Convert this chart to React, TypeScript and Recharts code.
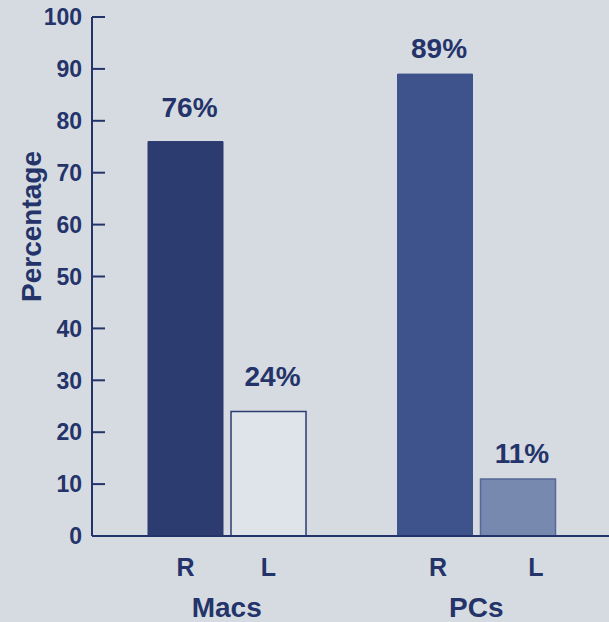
import React from 'react';
import { BarChart, Bar, XAxis, YAxis, Cell, LabelList } from 'recharts';

const groups = ['Macs', 'PCs'];
const rightValues = [76, 89];
const leftValues = [24, 11];
const barLetters = ['R', 'L'];
const yTicks = [0, 10, 20, 30, 40, 50, 60, 70, 80, 90, 100];

const data = groups.map((g, i) => ({ group: g, R: rightValues[i], L: leftValues[i] }));

const NAVY = '#24346a';
const BG = '#d6dbe1';
const rFills = ['#2c3b70', '#3e528c'];
const lFills = ['#dfe4ea', '#7889b0'];
const lStrokes = ['#2c3b70', '#566896'];
const FONT = '"Liberation Sans", Arial, Helvetica, sans-serif';
const valueGap = [25, 16];
const letterNudge = [[0, 0], [3, 18]];

const YTick = (props: any) => {
  const { x, y, payload } = props;
  return (
    <g>
      <text x={x} y={y} dy="0.36em" textAnchor="end" fill={NAVY} fontFamily={FONT} fontWeight="bold" fontSize={23}>
        {payload.value}
      </text>
      <line x1={x + 10} x2={x + 23} y1={y} y2={y} stroke={NAVY} strokeWidth={2} />
    </g>
  );
};

const XTick = (props: any) => {
  const { x, y, payload } = props;
  return (
    <text x={x} y={y} dy={81} textAnchor="middle" fill={NAVY} fontFamily={FONT} fontWeight="bold" fontSize={28}>
      {payload.value}
    </text>
  );
};

const box = (p: any) => {
  const vb = p.viewBox && p.viewBox.width !== undefined ? p.viewBox : p;
  return { x: Number(vb.x), y: Number(vb.y), width: Number(vb.width), height: Number(vb.height) };
};

const makeValueLabel = () => (p: any) => {
  const { x, y, width } = box(p);
  const i = p.index ?? 0;
  return (
    <text x={x + width / 2 + 4} y={y - valueGap[i]} textAnchor="middle" fill={NAVY} fontFamily={FONT} fontWeight="bold" fontSize={28}>
      {p.value}%
    </text>
  );
};

const makeLetterLabel = (k: number) => (p: any) => {
  const { x, y, width, height } = box(p);
  const i = p.index ?? 0;
  return (
    <text x={x + width / 2 + letterNudge[i][k]} y={y + height + 40} textAnchor="middle" fill={NAVY} fontFamily={FONT} fontWeight="bold" fontSize={25}>
      {barLetters[k]}
    </text>
  );
};

const PercentLabel = (p: any) => {
  const vb = p.viewBox || { x: 0, y: 17, width: 92, height: 519 };
  const cx = vb.x + 31;
  const cy = vb.y + vb.height / 2 - 50;
  return (
    <text x={cx} y={cy} transform={`rotate(-90 ${cx} ${cy})`} textAnchor="middle" dominantBaseline="central" fill={NAVY} fontFamily={FONT} fontWeight="bold" fontSize={28}>
      Percentage
    </text>
  );
};

export default function App() {
  return (
    <div style={{ position: 'absolute', left: 0, top: 0, width: 609, height: 622, background: BG, overflow: 'hidden' }}>
      <BarChart width={609} height={622} data={data} margin={{ top: 17, right: 0, bottom: 0, left: 0 }} barSize={75} barGap={8}>
        <XAxis
          dataKey="group"
          height={86}
          padding={{ left: 10, right: 8 }}
          axisLine={{ stroke: NAVY, strokeWidth: 2 }}
          tickLine={false}
          tickSize={0}
          tickMargin={0}
          tick={<XTick />}
          interval={0}
        />
        <YAxis
          width={92}
          domain={[0, 100]}
          ticks={yTicks}
          interval={0}
          axisLine={{ stroke: NAVY, strokeWidth: 2 }}
          tickLine={false}
          tickSize={0}
          tickMargin={10}
          tick={<YTick />}
          label={<PercentLabel />}
        />
        <Bar dataKey="R" isAnimationActive={false}>
          {data.map((d, i) => (
            <Cell key={d.group} fill={rFills[i]} stroke={rFills[i]} strokeWidth={1} />
          ))}
          <LabelList dataKey="R" content={makeValueLabel()} />
          <LabelList dataKey="R" content={makeLetterLabel(0)} />
        </Bar>
        <Bar dataKey="L" isAnimationActive={false}>
          {data.map((d, i) => (
            <Cell key={d.group} fill={lFills[i]} stroke={lStrokes[i]} strokeWidth={1.5} />
          ))}
          <LabelList dataKey="L" content={makeValueLabel()} />
          <LabelList dataKey="L" content={makeLetterLabel(1)} />
        </Bar>
      </BarChart>
    </div>
  );
}
